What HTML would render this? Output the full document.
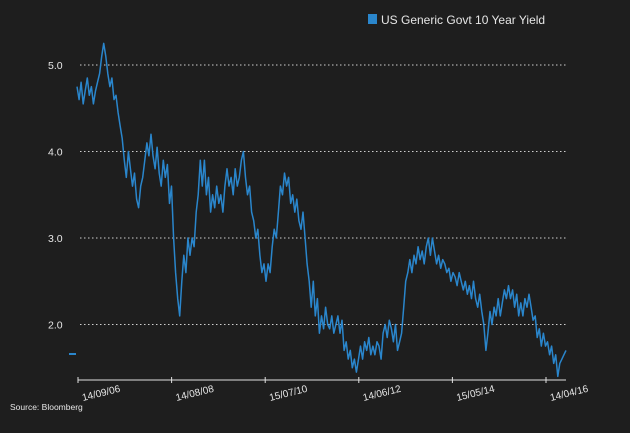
<!DOCTYPE html>
<html><head><meta charset="utf-8"><style>
html,body{margin:0;padding:0;background:#1e1e1e;}
svg{display:block;font-family:"Liberation Sans",sans-serif;}
</style></head><body>
<svg id="chart" width="630" height="433" viewBox="0 0 630 433">
<rect width="630" height="433" fill="#1e1e1e"/>
<g>
<rect x="368" y="14" width="9" height="10" fill="#2a86cc"/>
<text x="381" y="24" fill="#e6e6e6" font-size="12">US Generic Govt 10 Year Yield</text>
</g>
<g id="grid"></g>
<g id="yticks"></g>
<g id="xaxis"></g>
<rect x="69" y="353" width="7" height="2" fill="#2a86cc"/>
<path id="line" fill="none" stroke="#2a86cc" stroke-width="1.5" stroke-linejoin="round"/>
<text x="10" y="410" fill="#e6e6e6" font-size="8.5">Source: Bloomberg</text>
</svg>
<script>
const yTicks=[5.0,4.0,3.0,2.0];
const yTickLabels=["5.0","4.0","3.0","2.0"];
const xTickLabels=["14/09/06","14/08/08","15/07/10","14/06/12","15/05/14","14/04/16"];
const yields=[4.75,4.6,4.8,4.55,4.7,4.85,4.65,4.75,4.55,4.7,4.8,4.9,5.1,5.25,5.1,4.9,4.75,4.85,4.6,4.65,4.45,4.3,4.15,3.9,3.7,4.0,3.8,3.6,3.75,3.45,3.35,3.6,3.7,3.9,4.1,3.95,4.2,3.95,3.8,4.05,3.75,3.6,3.9,3.7,3.85,3.4,3.6,3.0,2.6,2.3,2.1,2.5,2.8,2.6,3.0,2.8,3.0,2.9,3.3,3.5,3.9,3.6,3.9,3.5,3.7,3.3,3.5,3.35,3.6,3.4,3.5,3.3,3.6,3.8,3.6,3.7,3.5,3.8,3.6,3.7,3.9,4.0,3.7,3.5,3.6,3.3,3.2,3.0,3.1,2.8,2.6,2.7,2.5,2.7,2.6,2.9,3.1,3.0,3.3,3.6,3.5,3.75,3.6,3.7,3.4,3.5,3.3,3.45,3.2,3.1,3.3,3.0,2.7,2.5,2.2,2.5,2.1,2.3,1.9,2.1,1.95,2.2,2.0,1.95,2.1,1.9,2.0,2.1,1.9,2.05,1.7,1.8,1.6,1.7,1.5,1.6,1.45,1.6,1.75,1.6,1.8,1.7,1.85,1.65,1.75,1.65,1.8,1.75,1.6,1.9,2.0,1.85,2.05,1.95,1.8,2.0,1.7,1.8,1.9,2.2,2.5,2.6,2.75,2.6,2.8,2.7,2.9,2.75,2.85,2.7,2.9,3.0,2.8,3.0,2.85,2.7,2.8,2.65,2.75,2.7,2.6,2.65,2.5,2.6,2.55,2.45,2.6,2.5,2.4,2.5,2.35,2.45,2.3,2.5,2.3,2.2,2.35,2.15,2.0,1.7,1.9,2.15,2.0,2.2,2.1,2.3,2.1,2.25,2.4,2.3,2.45,2.3,2.4,2.2,2.35,2.1,2.25,2.1,2.3,2.2,2.35,2.2,2.05,2.1,1.85,1.95,1.75,1.9,1.75,1.8,1.65,1.75,1.55,1.65,1.4,1.55,1.6,1.65,1.7];
const NS='http://www.w3.org/2000/svg';
const X0=77,X1=566;
function xs(i){return X0+(X1-X0)*i/(yields.length-1);}
function ys(v){return 65+(5-v)*86.5;}
function tx(k){return 78+k*93.6;}
const grid=document.getElementById('grid'),yt=document.getElementById('yticks'),xa=document.getElementById('xaxis');
yTicks.forEach((v,k)=>{
 const l=document.createElementNS(NS,'line');
 
 
 l.setAttribute('x1',80);l.setAttribute('x2',568);l.setAttribute('y1',ys(v));l.setAttribute('y2',ys(v));
 l.setAttribute('stroke','#cfcfcf');l.setAttribute('stroke-width','1');l.setAttribute('stroke-dasharray','1.5,2.5');
 grid.appendChild(l);
 const t=document.createElementNS(NS,'text');
 
 
 t.setAttribute('x',48);t.setAttribute('y',ys(v)+4);t.setAttribute('fill','#e6e6e6');t.setAttribute('font-size','10.5');
 t.textContent=yTickLabels[k];yt.appendChild(t);
});
const ax=document.createElementNS(NS,'line');


ax.setAttribute('x1',78);ax.setAttribute('x2',566);ax.setAttribute('y1',380);ax.setAttribute('y2',380);ax.setAttribute('stroke','#e0e0e0');ax.setAttribute('stroke-width','1');
xa.appendChild(ax);
xTickLabels.forEach((s,k)=>{
 const x=tx(k);
 const tk=document.createElementNS(NS,'line');
 
 
 tk.setAttribute('x1',x);tk.setAttribute('x2',x);tk.setAttribute('y1',377);tk.setAttribute('y2',383);tk.setAttribute('stroke','#e0e0e0');
 xa.appendChild(tk);
 const t=document.createElementNS(NS,'text');
 
 
 t.setAttribute('x',x+5);t.setAttribute('y',401);t.setAttribute('fill','#e6e6e6');t.setAttribute('font-size','10');
 t.setAttribute('transform','rotate(-14 '+(x+5)+' 401)');
 t.textContent=s;xa.appendChild(t);
});
document.getElementById('line').setAttribute('d',yields.map((v,i)=>(i?'L':'M')+xs(i).toFixed(1)+' '+ys(v).toFixed(1)).join(''));
</script>
</body></html>
